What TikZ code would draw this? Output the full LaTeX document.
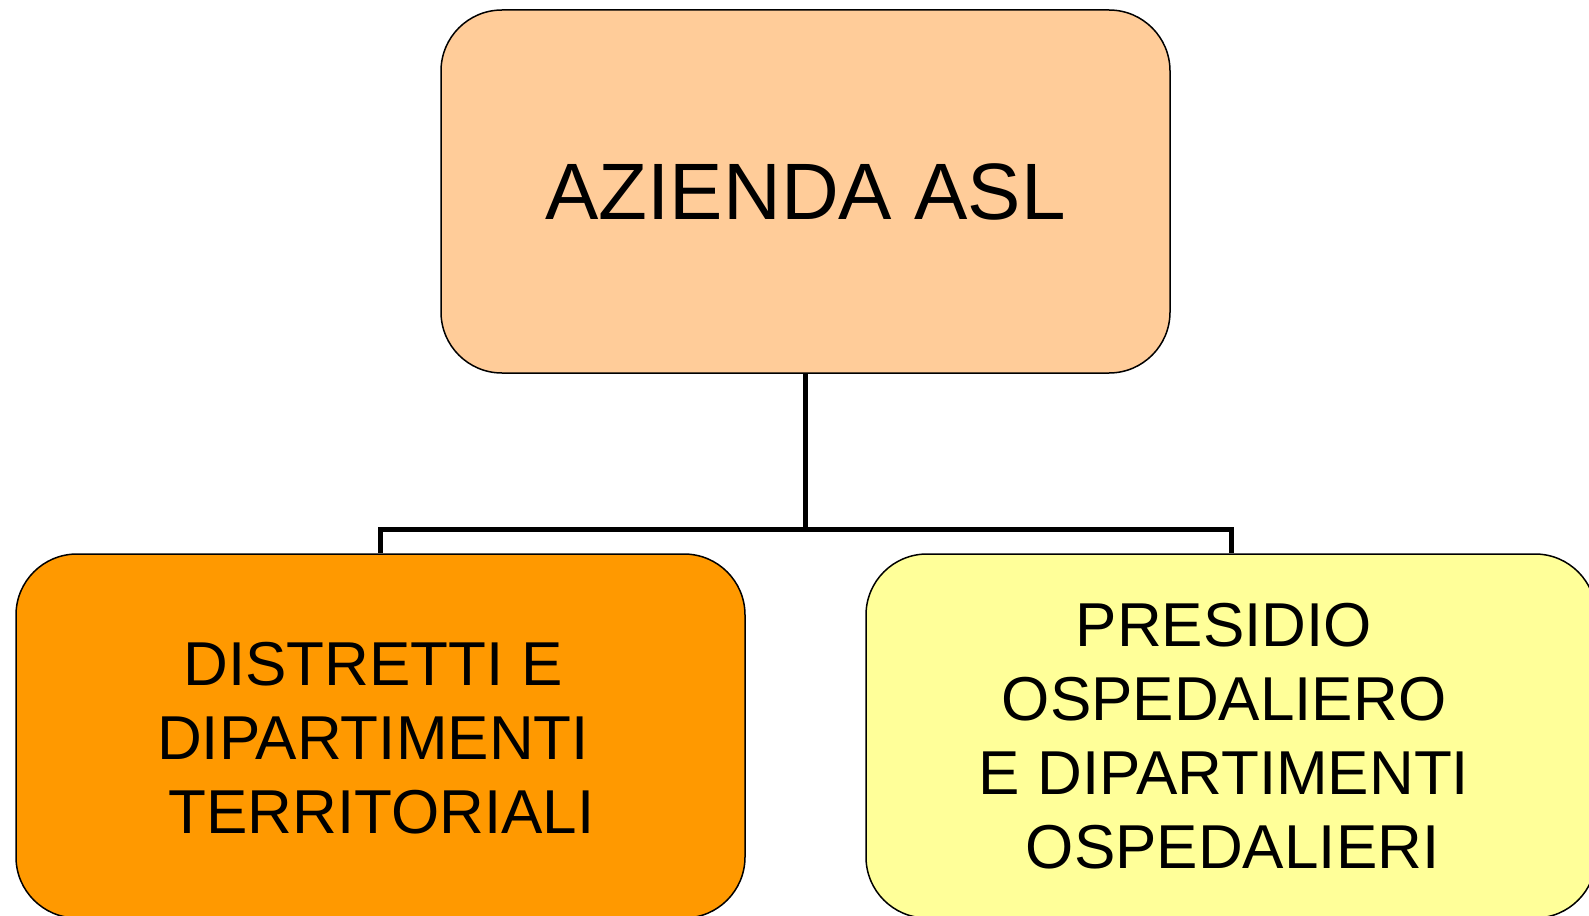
\documentclass[tikz,border=0pt]{standalone}
\usepackage{fontspec}
\setmainfont{Liberation Sans}
\definecolor{peach}{HTML}{FFCC99}
\definecolor{orangebox}{HTML}{FF9900}
\definecolor{yellowbox}{HTML}{FFFF99}
\begin{document}
\begin{tikzpicture}[x=1pt,y=-1pt,
  orgbox/.style={draw=black,line width=1.5pt,rounded corners=61pt,inner sep=0pt,align=center},
  link/.style={draw=black,line width=5pt}]
\useasboundingbox (0,0) rectangle (1589,915);
\node[orgbox,fill=peach,minimum width=729pt,minimum height=363pt,
  font={\fontsize{80}{88}\selectfont}] (top) at (805.5,191.5) {AZIENDA ASL};
\node[orgbox,fill=orangebox,minimum width=729pt,minimum height=364pt] (left) at (380.5,736) {};
\node[orgbox,fill=yellowbox,minimum width=730pt,minimum height=364pt] (right) at (1231,736) {};
\node[font={\fontsize{62}{74}\selectfont},align=center] (lefttext) at (373,738)
  {DISTRETTI E\\DIPARTIMENTI\\\hspace*{0.278em}TERRITORIALI};
\node[font={\fontsize{62}{74}\selectfont},align=center] (righttext) at (1224,736)
  {PRESIDIO\\OSPEDALIERO\\E DIPARTIMENTI\\\hspace*{0.278em}OSPEDALIERI};
\coordinate (j) at (805.5,529);
\draw[link] (top.south) -- (j);
\draw[link] (j) -| (left.north);
\draw[link] (j) -| (right.north);
\end{tikzpicture}
\end{document}
